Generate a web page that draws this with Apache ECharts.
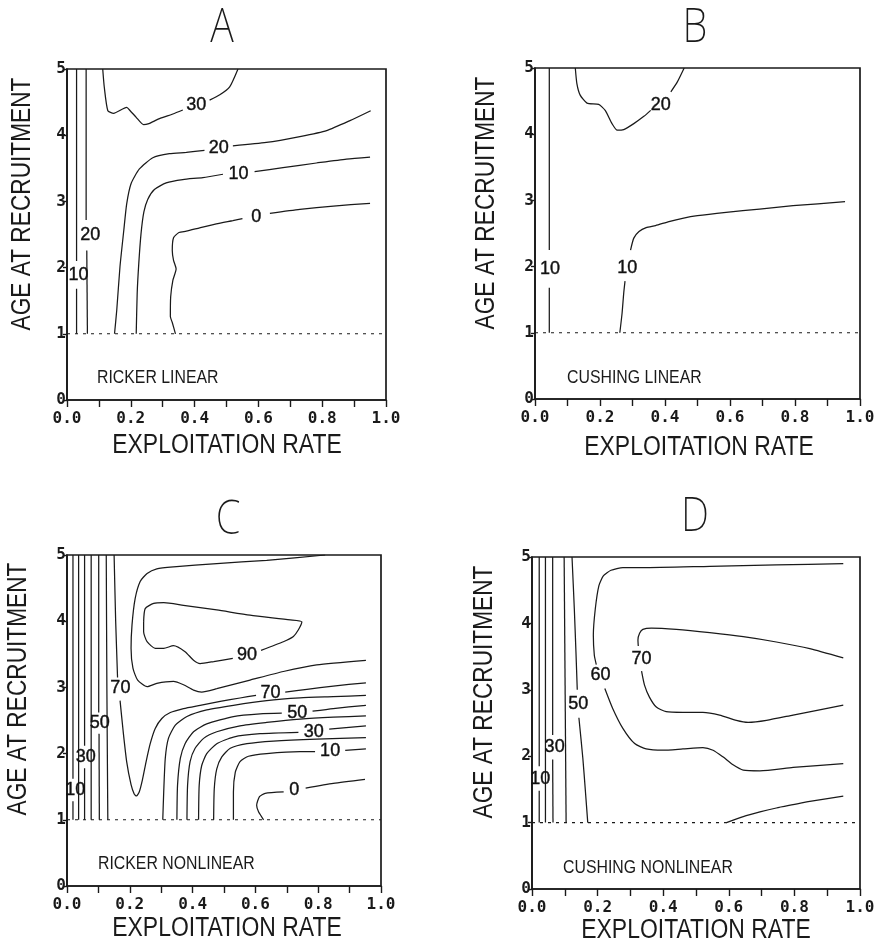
<!DOCTYPE html>
<html><head><meta charset="utf-8">
<script src="https://cdn.jsdelivr.net/npm/echarts@6/dist/echarts.min.js"></script>
<style>html,body{margin:0;padding:0;background:#fff}#c{width:886px;height:949px}</style>
</head><body><div id="c"></div>
<script>
// ---------- tick labels & texts ----------
const xTickLabels = ['0.0','0.2','0.4','0.6','0.8','1.0'];
const yTickLabels = ['0','1','2','3','4','5'];
const panelLetters = ['A','B','C','D'];
const panelModels = ['RICKER LINEAR','CUSHING LINEAR','RICKER NONLINEAR','CUSHING NONLINEAR'];
const xAxisTitle = 'EXPLOITATION RATE';
const yAxisTitle = 'AGE AT RECRUITMENT';
const recruitmentLine = [[0,1],[1,1]];

// ---------- Panel A: Ricker linear (null = gap for label) ----------
const A_10_left = [[0.030,5],[0.030,2.10],null,[0.030,1.68],[0.030,1]];
const A_20_left = [[0.060,5],[0.060,2.72],null,[0.062,2.26],[0.064,1]];
const A_30 = [[0.112,5],[0.117,4.72],[0.128,4.37],[0.146,4.33],[0.187,4.42],[0.198,4.37],[0.217,4.27],[0.240,4.16],[0.254,4.17],[0.290,4.25],[0.332,4.32],[0.363,4.38],null,[0.447,4.53],[0.479,4.61],[0.510,4.73],[0.536,5]];
const A_20 = [[0.149,1],[0.156,1.36],[0.166,2.01],[0.178,2.56],[0.187,2.96],[0.201,3.27],[0.227,3.49],[0.269,3.66],[0.321,3.72],[0.374,3.74],[0.431,3.77],null,[0.520,3.84],[0.625,3.89],[0.730,3.98],[0.814,4.07],[0.887,4.22],[0.952,4.37]];
const A_10 = [[0.217,1],[0.220,1.61],[0.225,2.06],[0.232,2.51],[0.241,2.84],[0.253,3.03],[0.274,3.18],[0.311,3.28],[0.363,3.33],[0.426,3.36],[0.489,3.41],null,[0.588,3.45],[0.677,3.51],[0.782,3.58],[0.876,3.64],[0.950,3.67]];
const A_0 = [[0.340,1],[0.330,1.17],[0.324,1.26],[0.325,1.56],[0.332,1.81],[0.342,1.98],[0.334,2.11],[0.330,2.26],[0.334,2.45],[0.351,2.53],[0.374,2.55],[0.416,2.60],[0.468,2.66],[0.520,2.71],[0.550,2.74],null,[0.636,2.82],[0.730,2.88],[0.835,2.93],[0.950,2.97]];
const A_labels = [[0.036,1.89,'10'],[0.073,2.49,'20'],[0.405,4.45,'30'],[0.476,3.80,'20'],[0.538,3.42,'10'],[0.593,2.77,'0']];

// ---------- Panel B: Cushing linear ----------
const B_10_left = [[0.044,5],[0.044,2.25],null,[0.044,1.68],[0.044,1]];
const B_20 = [[0.124,5],[0.129,4.76],[0.139,4.59],[0.160,4.47],[0.196,4.45],[0.216,4.36],[0.237,4.16],[0.253,4.06],[0.273,4.07],[0.304,4.16],[0.335,4.27],[0.356,4.36],null,[0.418,4.64],[0.438,4.79],[0.459,5]];
const B_10 = [[0.261,1],[0.268,1.30],[0.273,1.60],[0.277,1.78],null,[0.294,2.25],[0.304,2.43],[0.320,2.53],[0.342,2.59],[0.371,2.62],[0.412,2.68],[0.454,2.73],[0.500,2.77],[0.588,2.82],[0.691,2.87],[0.794,2.92],[0.954,2.98]];
const B_labels = [[0.046,1.96,'10'],[0.387,4.44,'20'],[0.284,1.98,'10']];

// ---------- Panel C: Ricker nonlinear ----------
const C_10_left = [[0.019,5],[0.019,1.62],null,[0.019,1.28],[0.019,1]];
const C_20_left = [[0.037,5],[0.037,1]];
const C_30_left = [[0.056,5],[0.056,2.12],null,[0.056,1.78],[0.056,1]];
const C_40_left = [[0.077,5],[0.077,1]];
const C_50_left = [[0.101,5],[0.101,2.62],null,[0.102,2.30],[0.103,1]];
const C_60_left = [[0.125,5],[0.127,3],[0.130,1]];
const C_70 = [[0.150,5],[0.155,4],[0.161,3.15],null,[0.169,2.80],[0.179,2.33],[0.190,1.88],[0.204,1.53],[0.214,1.39],[0.221,1.36],[0.230,1.42],[0.240,1.60],[0.252,1.88],[0.265,2.15],[0.281,2.38],[0.302,2.53],[0.329,2.62],[0.371,2.68],[0.424,2.73],[0.488,2.79],[0.551,2.84],[0.602,2.88],null,[0.695,2.93],[0.764,2.97],[0.848,3.02],[0.952,3.07]];
const C_80 = [[0.822,5],[0.636,4.92],[0.477,4.87],[0.339,4.82],[0.286,4.79],[0.255,4.72],[0.233,4.60],[0.217,4.34],[0.207,3.94],[0.204,3.59],[0.210,3.29],[0.225,3.11],[0.255,3.01],[0.286,3.06],[0.339,3.09],[0.371,3.04],[0.403,2.96],[0.429,2.93],[0.477,2.98],[0.583,3.11],[0.689,3.24],[0.795,3.34],[0.952,3.41]];
const C_90 = [[0.244,3.99],[0.249,4.19],[0.276,4.27],[0.308,4.28],[0.371,4.24],[0.477,4.17],[0.583,4.09],[0.711,4.02],[0.748,3.99],[0.737,3.87],[0.721,3.77],[0.689,3.69],[0.618,3.56],null,[0.528,3.44],[0.467,3.39],[0.424,3.36],[0.403,3.41],[0.376,3.54],[0.339,3.63],[0.308,3.59],[0.281,3.59],[0.255,3.69],[0.244,3.84],[0.244,3.99]];
const C_60 = [[0.305,1],[0.308,1.42],[0.313,1.93],[0.323,2.23],[0.345,2.43],[0.382,2.56],[0.445,2.66],[0.530,2.73],[0.636,2.80],[0.742,2.84],[0.848,2.86],[0.952,2.88]];
const C_50 = [[0.350,1],[0.352,1.52],[0.361,1.93],[0.376,2.15],[0.403,2.33],[0.445,2.45],[0.530,2.56],[0.615,2.60],[0.684,2.61],null,[0.782,2.64],[0.848,2.68],[0.952,2.73]];
const C_40 = [[0.382,1],[0.384,1.52],[0.392,1.88],[0.408,2.08],[0.435,2.23],[0.477,2.33],[0.551,2.42],[0.636,2.47],[0.742,2.52],[0.848,2.55],[0.952,2.57]];
const C_30 = [[0.419,1],[0.421,1.52],[0.429,1.82],[0.445,2.00],[0.477,2.15],[0.530,2.25],[0.615,2.30],[0.737,2.32],null,[0.835,2.37],[0.952,2.42]];
const C_20 = [[0.467,1],[0.469,1.47],[0.477,1.77],[0.493,1.95],[0.520,2.08],[0.573,2.15],[0.657,2.19],[0.795,2.22],[0.952,2.24]];
const C_10 = [[0.530,1],[0.530,1.42],[0.536,1.72],[0.551,1.88],[0.578,1.96],[0.636,2.00],[0.742,2.03],[0.790,2.03],null,[0.886,2.05],[0.952,2.07]];
const C_0 = [[0.626,1],[0.610,1.12],[0.604,1.22],[0.613,1.35],[0.631,1.40],[0.690,1.42],null,[0.760,1.48],[0.848,1.55],[0.949,1.61]];
const C_labels = [[0.026,1.45,'10'],[0.060,1.95,'30'],[0.104,2.46,'50'],[0.170,2.99,'70'],[0.573,3.49,'90'],[0.648,2.91,'70'],[0.733,2.62,'50'],[0.786,2.33,'30'],[0.838,2.04,'10'],[0.724,1.45,'0']];

// ---------- Panel D: Cushing nonlinear ----------
const D_10_left = [[0.022,5],[0.022,1.85],null,[0.022,1.48],[0.022,1]];
const D_20_left = [[0.041,5],[0.041,1]];
const D_30_left = [[0.063,5],[0.063,2.32],null,[0.063,1.95],[0.064,1]];
const D_40_left = [[0.098,5],[0.104,1]];
const D_50 = [[0.122,5],[0.129,4.22],[0.134,3.57],[0.138,3.0],null,[0.143,2.58],[0.155,1.97],[0.163,1.46],[0.170,1]];
const D_60 = [[0.949,4.90],[0.745,4.88],[0.542,4.86],[0.338,4.84],[0.277,4.84],[0.241,4.80],[0.218,4.72],[0.204,4.57],[0.193,4.22],[0.187,3.82],[0.190,3.52],[0.196,3.38],null,[0.222,3.02],[0.246,2.72],[0.277,2.42],[0.313,2.19],[0.348,2.11],[0.399,2.09],[0.460,2.11],[0.521,2.13],[0.552,2.09],[0.582,1.99],[0.613,1.87],[0.644,1.79],[0.695,1.78],[0.796,1.83],[0.949,1.89]];
const D_70 = [[0.949,3.48],[0.847,3.62],[0.745,3.72],[0.644,3.80],[0.542,3.86],[0.440,3.91],[0.364,3.93],[0.338,3.91],[0.328,3.85],[0.323,3.75],[0.324,3.66],null,[0.334,3.28],[0.343,3.07],[0.358,2.89],[0.379,2.74],[0.409,2.67],[0.460,2.66],[0.521,2.66],[0.572,2.62],[0.623,2.54],[0.659,2.51],[0.715,2.54],[0.796,2.62],[0.949,2.77]];
const D_low = [[0.593,1],[0.644,1.09],[0.695,1.16],[0.745,1.22],[0.796,1.27],[0.847,1.32],[0.949,1.40]];
const D_labels = [[0.025,1.66,'10'],[0.069,2.14,'30'],[0.141,2.79,'50'],[0.209,3.22,'60'],[0.334,3.47,'70']];

const panelContours = [
  [A_10_left, A_20_left, A_30, A_20, A_10, A_0],
  [B_10_left, B_20, B_10],
  [C_10_left, C_20_left, C_30_left, C_40_left, C_50_left, C_60_left, C_70, C_80, C_90, C_60, C_50, C_40, C_30, C_20, C_10, C_0],
  [D_10_left, D_20_left, D_30_left, D_40_left, D_50, D_60, D_70, D_low]
];
const panelLabels = [A_labels, B_labels, C_labels, D_labels];

// ---------- layout (pixels) ----------
const gridBoxes = [
  {left:67, top:69, width:319, height:331},
  {left:535, top:68, width:325, height:331},
  {left:67, top:555, width:314, height:331},
  {left:532, top:557, width:328, height:332}
];
const letterPos = [[222,29],[695,29],[228,521],[695,518]];
const yNamePos = [[23,204],[487,203],[19,689],[485,692]];
const xNamePos = [[227,446],[699,448],[227,929],[696,931]];
const modelPos = [[97,378],[567,378],[98,864],[563,868]];

const INK = '#1a1a1a';
const tickFont = {fontFamily:'DejaVu Sans Mono', fontWeight:'bold', fontSize:16, color:INK};
const nameFont = '27px "Liberation Sans", "DejaVu Sans"';

function splitGaps(arr){
  const segs=[]; let cur=[];
  arr.forEach(p=>{ if(p===null){ if(cur.length>1) segs.push(cur); cur=[]; } else cur.push(p); });
  if(cur.length>1) segs.push(cur);
  return segs;
}

const grid=[], xAxis=[], yAxis=[], series=[], graphic=[];
gridBoxes.forEach((g,p)=>{
  grid.push(Object.assign({show:true, borderColor:INK, borderWidth:1.7, containLabel:false, outerBoundsMode:'none'}, g));
  xAxis.push({gridIndex:p, type:'value', min:0, max:1, interval:0.1,
    axisLine:{show:true, onZero:false, lineStyle:{color:INK, width:1.7}},
    axisTick:{show:true, length:7, lineStyle:{color:INK, width:1.4}},
    splitLine:{show:false},
    axisLabel:Object.assign({margin:11, hideOverlap:false, formatter:v=>{const i=Math.round(v*10); return i%2===0?xTickLabels[i/2]:'';}}, tickFont)
  });
  yAxis.push({gridIndex:p, type:'value', min:0, max:5, interval:1,
    axisLine:{show:true, onZero:false, lineStyle:{color:INK, width:1.7}},
    axisTick:{show:true, length:4, lineStyle:{color:INK, width:1.4}},
    splitLine:{show:false},
    axisLabel:Object.assign({margin:1, formatter:v=>yTickLabels[Math.round(v)]}, tickFont)
  });
  panelContours[p].forEach(c=>{
    splitGaps(c).forEach(seg=>{
      series.push({type:'line', xAxisIndex:p, yAxisIndex:p, data:seg, symbol:'none', smooth:0.2,
        lineStyle:{color:INK, width:1.25}, silent:true, animation:false, z:3});
    });
  });
  series.push({type:'line', xAxisIndex:p, yAxisIndex:p, data:recruitmentLine, symbol:'none',
    lineStyle:{color:INK, width:1.1, type:[3,5]}, silent:true, animation:false});
  series.push({type:'scatter', xAxisIndex:p, yAxisIndex:p, symbolSize:0, silent:true, animation:false, z:5,
    itemStyle:{opacity:1, color:'#111'},
    data: panelLabels[p].map(l=>({value:[l[0],l[1]], name:l[2]})),
    label:{show:true, position:'inside', formatter:q=>q.name, fontFamily:'Liberation Sans', fontSize:18,
      color:'#111', opacity:1, textBorderColor:'#111', textBorderWidth:0.4}
  });
  graphic.push({type:'text', x:letterPos[p][0], y:letterPos[p][1], scaleX:0.85, silent:true,
    style:{text:panelLetters[p], textAlign:'center', textVerticalAlign:'middle', font:'200 47px "Noto Sans"', fill:INK}});
  graphic.push({type:'text', x:yNamePos[p][0], y:yNamePos[p][1], rotation:Math.PI/2, scaleX:0.84, silent:true,
    style:{text:yAxisTitle, textAlign:'center', textVerticalAlign:'middle', font:nameFont, fill:INK}});
  graphic.push({type:'text', x:xNamePos[p][0], y:xNamePos[p][1], scaleX:0.85, silent:true,
    style:{text:xAxisTitle, textAlign:'center', textVerticalAlign:'middle', font:nameFont, fill:INK}});
  graphic.push({type:'text', x:modelPos[p][0], y:modelPos[p][1], scaleX:0.88, silent:true,
    style:{text:panelModels[p], textAlign:'left', textVerticalAlign:'middle', font:'18px "Liberation Sans"', fill:INK}});
});

const chart = echarts.init(document.getElementById('c'), null, {renderer:'canvas'});
chart.setOption({backgroundColor:'#fff', animation:false, grid, xAxis, yAxis, series, graphic});
</script></body></html>
